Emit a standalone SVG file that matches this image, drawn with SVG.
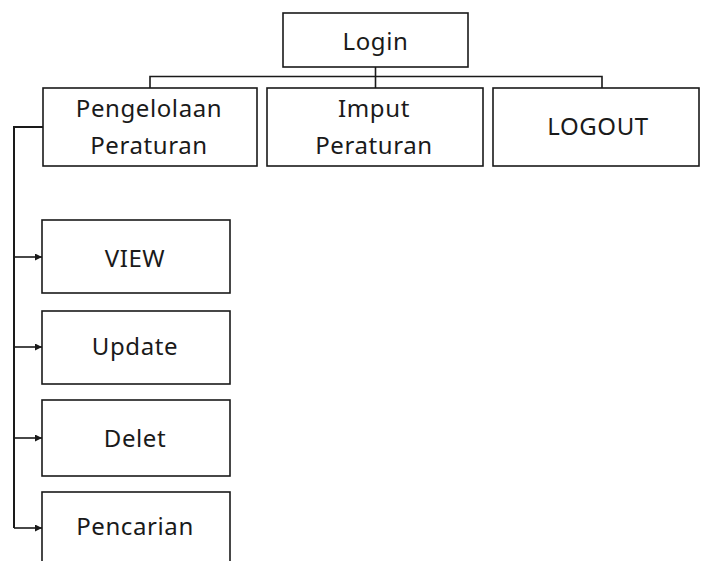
<svg xmlns="http://www.w3.org/2000/svg" width="701" height="561" viewBox="0 0 701 561">
<style>
.box{fill:#fff;stroke:#1a1a1a;stroke-width:1.6}
.lbl{font-family:"Noto Sans","Liberation Sans",sans-serif;font-size:24px;letter-spacing:0.6px;fill:#1a1a1a;text-anchor:middle}
.con{fill:none;stroke:#1a1a1a;stroke-width:1.6}
</style>
<defs>
<marker id="ah" viewBox="0 0 10 10" refX="10" refY="5" markerWidth="8" markerHeight="7" markerUnits="userSpaceOnUse" orient="auto">
<path d="M0,0 L10,5 L0,10 z" fill="#1a1a1a"/>
</marker>
</defs>
<rect width="701" height="561" fill="#fff"/>
<g id="connectors">
<path class="con" d="M375.5,67 V88"/>
<path class="con" d="M150,88 V76.5 H602 V88"/>
<path class="con" d="M43,127 H14 V528" style="stroke-width:2"/>
<path class="con" d="M14,257 H42" marker-end="url(#ah)"/>
<path class="con" d="M14,347 H42" marker-end="url(#ah)"/>
<path class="con" d="M14,438 H42" marker-end="url(#ah)"/>
<path class="con" d="M14,528 H42" marker-end="url(#ah)"/>
</g>
<g id="login"><rect class="box" x="283" y="13" width="185" height="54"/><text class="lbl" x="375.5" y="50">Login</text></g>
<g id="pengelolaan"><rect class="box" x="43" y="88" width="214" height="78"/><text class="lbl" x="149" y="117">Pengelolaan</text><text class="lbl" x="149" y="154">Peraturan</text></g>
<g id="imput"><rect class="box" x="267" y="88" width="216" height="78"/><text class="lbl" x="374" y="117">Imput</text><text class="lbl" x="374" y="154">Peraturan</text></g>
<g id="logout"><rect class="box" x="493" y="88" width="206" height="78"/><text class="lbl" x="598" y="135">LOGOUT</text></g>
<g id="view"><rect class="box" x="42" y="220" width="188" height="73"/><text class="lbl" x="135" y="267">VIEW</text></g>
<g id="update"><rect class="box" x="42" y="311" width="188" height="73"/><text class="lbl" x="135" y="355">Update</text></g>
<g id="delet"><rect class="box" x="42" y="400" width="188" height="76"/><text class="lbl" x="135" y="447">Delet</text></g>
<g id="pencarian"><rect class="box" x="42" y="492" width="188" height="80"/><text class="lbl" x="135" y="535">Pencarian</text></g>
</svg>
